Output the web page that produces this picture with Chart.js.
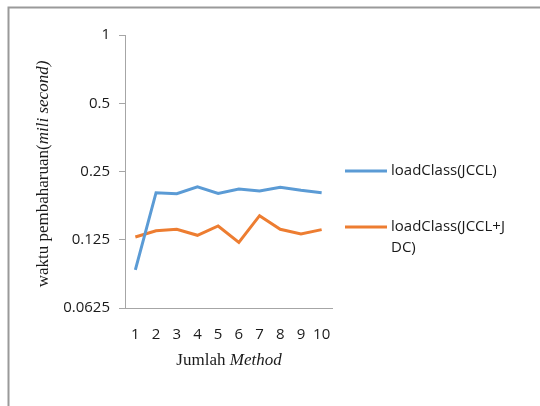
<!DOCTYPE html>
<html>
<head>
<meta charset="utf-8">
<script src="https://cdn.jsdelivr.net/npm/chart.js@4"></script>
<style>
  html, body { margin: 0; padding: 0; background: #fff; }
  #wrap { width: 540px; height: 406px; position: relative; }
</style>
</head>
<body>
<div id="wrap"><canvas id="chart" width="540" height="406"></canvas></div>
<script>
// data
const methods = ['1', '2', '3', '4', '5', '6', '7', '8', '9', '10'];
const jccl = [0.092, 0.2016, 0.1996, 0.214, 0.200, 0.2094, 0.205, 0.213, 0.2065, 0.2016];
const jcclJdc = [0.1286, 0.137, 0.139, 0.1308, 0.1438, 0.1218, 0.1596, 0.139, 0.1325, 0.1385];
const yTicks = [0.0625, 0.125, 0.25, 0.5, 1];

const blue = '#5B9BD5';
const orange = '#ED7D31';
const axisGray = '#a6a6a6';
const textCol = '#1a1a1a';

// frame, axis titles and legend drawn by hand
const decor = {
  id: 'decor',
  beforeDraw(chart) {
    const c = chart.ctx;
    c.save();
    c.strokeStyle = '#9a9a9a';
    c.lineWidth = 2;
    c.beginPath();
    c.moveTo(8.5, 406);
    c.lineTo(8.5, 7.5);
    c.lineTo(540, 7.5);
    c.stroke();
    c.restore();
  },
  afterDraw(chart) {
    const c = chart.ctx;
    c.save();
    c.fillStyle = textCol;
    c.textBaseline = 'middle';
    c.textAlign = 'left';

    // x title: "Jumlah Method"
    const t1 = 'Jumlah ';
    const t2 = 'Method';
    c.font = '17px "Liberation Serif"';
    const w1 = c.measureText(t1).width;
    c.font = 'italic 17px "Liberation Serif"';
    const w2 = c.measureText(t2).width;
    let x = 229 - (w1 + w2) / 2;
    c.font = '17px "Liberation Serif"';
    c.fillText(t1, x, 361);
    c.font = 'italic 17px "Liberation Serif"';
    c.fillText(t2, x + w1, 361);

    // y title rotated
    const s1 = 'waktu pembaharuan(';
    const s2 = 'mili second)';
    c.translate(44, 174);
    c.rotate(-Math.PI / 2);
    c.font = '17px "Liberation Serif"';
    const v1 = c.measureText(s1).width;
    c.font = 'italic 17px "Liberation Serif"';
    const v2 = c.measureText(s2).width;
    x = -(v1 + v2) / 2;
    c.font = '17px "Liberation Serif"';
    c.fillText(s1, x, 0);
    c.font = 'italic 17px "Liberation Serif"';
    c.fillText(s2, x + v1, 0);
    c.restore();

    // legend
    c.save();
    c.lineWidth = 3;
    c.font = '15px "Open Sans"';
    c.fillStyle = textCol;
    c.textBaseline = 'middle';
    const items = [
      { color: blue, y: 171, lines: ['loadClass(JCCL)'] },
      { color: orange, y: 227, lines: ['loadClass(JCCL+J', 'DC)'] }
    ];
    items.forEach(it => {
      c.strokeStyle = it.color;
      c.beginPath();
      c.moveTo(345, it.y);
      c.lineTo(387, it.y);
      c.stroke();
      it.lines.forEach((ln, i) => c.fillText(ln, 391, it.y + i * 21));
    });
    c.restore();
  }
};

new Chart(document.getElementById('chart'), {
  type: 'line',
  data: {
    labels: methods,
    datasets: [
      { label: 'loadClass(JCCL)', data: jccl, borderColor: blue, backgroundColor: blue,
        borderWidth: 3, pointRadius: 0, tension: 0, fill: false },
      { label: 'loadClass(JCCL+JDC)', data: jcclJdc, borderColor: orange, backgroundColor: orange,
        borderWidth: 3, pointRadius: 0, tension: 0, fill: false }
    ]
  },
  options: {
    responsive: false,
    animation: false,
    layout: { padding: { left: 0, right: 208, top: 35, bottom: 0 } },
    plugins: { legend: { display: false }, tooltip: { enabled: false } },
    scales: {
      x: {
        offset: true,
        grid: { display: false },
        border: { color: axisGray, width: 1 },
        ticks: { color: textCol, font: { family: 'Open Sans', size: 15 }, padding: 10, maxRotation: 0, autoSkip: false },
        afterFit(s) { s.height = 98; }
      },
      y: {
        type: 'logarithmic',
        min: 0.0625,
        max: 1,
        afterBuildTicks(s) { s.ticks = yTicks.map(v => ({ value: v })); },
        grid: { drawOnChartArea: false, drawTicks: true, tickLength: 6, color: axisGray },
        border: { color: axisGray, width: 1 },
        ticks: {
          color: textCol, font: { family: 'Open Sans', size: 15 }, padding: 9,
          callback: v => String(v)
        },
        afterFit(s) { s.width = 125; }
      }
    }
  },
  plugins: [decor]
});
</script>
</body>
</html>
